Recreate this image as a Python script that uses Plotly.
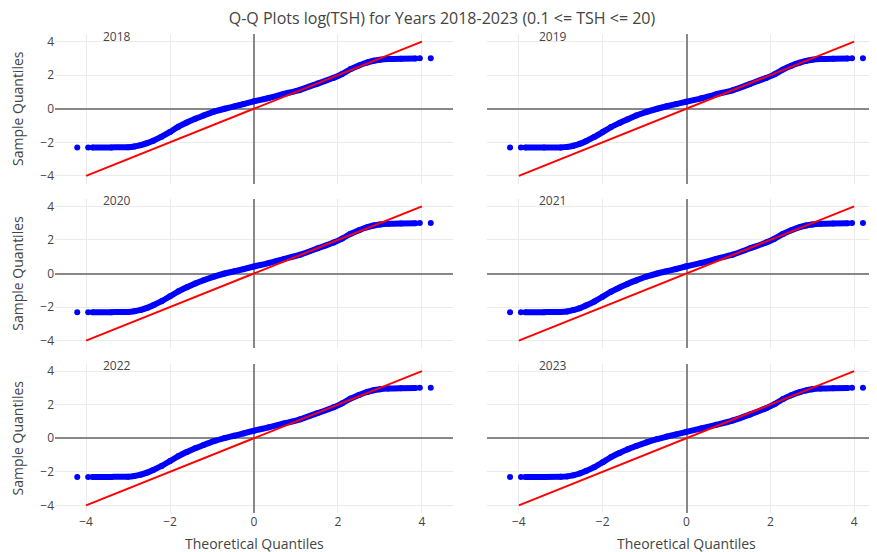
import plotly.graph_objects as go
from plotly.subplots import make_subplots

YEARS = ["2018", "2019", "2020", "2021", "2022", "2023"]

# Theoretical quantile grid along the dense band
THEO_GRID = [-3.85, -3.4, -3.0, -2.85, -2.7, -2.55, -2.4, -2.2, -2.0, -1.8,
             -1.6, -1.4, -1.2, -0.95, -0.7, -0.47, -0.25, 0.0, 0.35, 0.71,
             1.1, 1.52, 1.9, 2.1, 2.3, 2.5, 2.7, 2.85, 3.0, 3.2, 3.5, 3.85]

SAMPLE_2018 = [-2.30, -2.30, -2.29, -2.25, -2.17, -2.05, -1.90, -1.66, -1.38, -1.07,
               -0.82, -0.60, -0.40, -0.17, 0.00, 0.14, 0.28, 0.44, 0.64, 0.88,
               1.13, 1.50, 1.84, 2.07, 2.36, 2.58, 2.76, 2.86, 2.92, 2.96, 2.98, 2.99]
SAMPLE_2019 = [-2.30, -2.30, -2.30, -2.27, -2.20, -2.09, -1.93, -1.68, -1.39, -1.09,
               -0.85, -0.62, -0.40, -0.18, 0.00, 0.15, 0.28, 0.42, 0.62, 0.86,
               1.10, 1.48, 1.83, 2.05, 2.33, 2.56, 2.74, 2.85, 2.92, 2.96, 2.98, 2.99]
SAMPLE_2020 = [-2.30, -2.30, -2.29, -2.25, -2.17, -2.05, -1.89, -1.65, -1.36, -1.06,
               -0.82, -0.60, -0.40, -0.18, 0.00, 0.13, 0.26, 0.42, 0.62, 0.86,
               1.12, 1.50, 1.85, 2.08, 2.36, 2.58, 2.76, 2.86, 2.92, 2.96, 2.98, 2.99]
SAMPLE_2021 = [-2.30, -2.30, -2.29, -2.26, -2.18, -2.07, -1.91, -1.67, -1.38, -1.08,
               -0.84, -0.61, -0.41, -0.18, 0.00, 0.14, 0.27, 0.43, 0.63, 0.87,
               1.12, 1.50, 1.84, 2.07, 2.35, 2.58, 2.76, 2.86, 2.92, 2.96, 2.98, 2.99]
SAMPLE_2022 = [-2.30, -2.30, -2.29, -2.25, -2.17, -2.05, -1.89, -1.65, -1.36, -1.06,
               -0.82, -0.60, -0.40, -0.17, 0.01, 0.15, 0.29, 0.45, 0.65, 0.88,
               1.13, 1.50, 1.85, 2.08, 2.36, 2.58, 2.76, 2.86, 2.92, 2.96, 2.98, 2.99]
SAMPLE_2023 = [-2.30, -2.30, -2.29, -2.27, -2.21, -2.10, -1.95, -1.72, -1.43, -1.12,
               -0.88, -0.66, -0.46, -0.24, -0.05, 0.10, 0.23, 0.38, 0.58, 0.80,
               1.05, 1.42, 1.79, 2.03, 2.33, 2.56, 2.74, 2.85, 2.92, 2.96, 2.98, 2.99]

# Isolated extreme points at both ends
TAIL_THEO = [-4.21, -3.95, 3.95, 4.21]
TAIL_SAMPLE = [-2.30, -2.30, 3.00, 3.00]

# Reference line y = x
REF_LINE = [-4, 4]

SAMPLES = [SAMPLE_2018, SAMPLE_2019, SAMPLE_2020, SAMPLE_2021, SAMPLE_2022, SAMPLE_2023]

BLUE = "#0000FF"
RED = "#FF0000"
GRAY_TEXT = "#444444"

fig = make_subplots(rows=3, cols=2, shared_xaxes=True, shared_yaxes=True)

for i, (year, samp) in enumerate(zip(YEARS, SAMPLES)):
    r, c = i // 2 + 1, i % 2 + 1
    fig.add_trace(go.Scatter(x=THEO_GRID, y=samp, mode="lines+markers",
                             line=dict(color=BLUE, width=6, shape="spline", smoothing=0.6),
                             marker=dict(color=BLUE, size=6),
                             showlegend=False, hoverinfo="skip"), row=r, col=c)
    fig.add_trace(go.Scatter(x=TAIL_THEO, y=TAIL_SAMPLE, mode="markers",
                             marker=dict(color=BLUE, size=6), showlegend=False), row=r, col=c)
    fig.add_trace(go.Scatter(x=REF_LINE, y=REF_LINE, mode="lines",
                             line=dict(color=RED, width=2), showlegend=False), row=r, col=c)

# page body adds an 8px offset; layout measured in figure coordinates
W, H = 880, 552
ML, MR, MT, MB = 47, 2, 26, 47
pw = W - ML - MR
ph = H - MT - MB
left_dom = [0, 398 / pw]
right_dom = [432 / pw, 1]
rh = 149.5 / ph
gap = (1 - 3 * rh) / 2
row_doms = [[1 - rh, 1], [rh + gap, 2 * rh + gap], [0, rh]]

axis_common = dict(showgrid=True, gridcolor="#EBEBEB", zeroline=True, zerolinecolor="#888888",
                   zerolinewidth=1.5, showline=False, ticks="", tickfont=dict(size=12, color=GRAY_TEXT),
                   automargin=False, tickvals=[-4, -2, 0, 2, 4],
                   ticktext=["\u22124", "\u22122", "0", "2", "4"])

for i in range(6):
    r, c = i // 2, i % 2
    idx = i + 1
    xname = "xaxis" if idx == 1 else f"xaxis{idx}"
    yname = "yaxis" if idx == 1 else f"yaxis{idx}"
    xr = [-4.74, 4.74] if c == 0 else [-4.76, 4.76]
    xd = dict(axis_common, domain=left_dom if c == 0 else right_dom, range=xr)
    yd = dict(axis_common, domain=row_doms[r], range=[-4.45, 4.45])
    if c == 0:
        yd["title"] = dict(text="Sample Quantiles", font=dict(size=14, color=GRAY_TEXT))
    fig.update_layout({xname: xd, yname: yd})

annos = []
for i, year in enumerate(YEARS):
    idx = i + 1
    c = i % 2
    xref = "x domain" if idx == 1 else f"x{idx} domain"
    yref = "y domain" if idx == 1 else f"y{idx} domain"
    annos.append(dict(text=year, xref=xref, yref=yref, x=0.156 if c == 0 else 0.165, y=1,
                      xanchor="center", yanchor="middle", yshift=-2, showarrow=False,
                      font=dict(size=12, color=GRAY_TEXT)))

# x-axis titles for the bottom row
for idx, xc in ((5, 0.5), (6, 0.5)):
    annos.append(dict(text="Theoretical Quantiles", xref=f"x{idx} domain", yref=f"y{idx} domain",
                      x=xc, y=0, xanchor="center", yanchor="middle", yshift=-30,
                      showarrow=False, font=dict(size=14, color=GRAY_TEXT)))

fig.update_layout(
    template="plotly_white",
    width=W, height=H,
    margin=dict(l=ML, r=MR, t=MT, b=MB),
    title=dict(text="Q-Q Plots log(TSH) for Years 2018-2023 (0.1 <= TSH <= 20)",
               x=434 / W, xanchor="center", y=1 - 10 / H, yanchor="middle",
               font=dict(size=16, color=GRAY_TEXT)),
    annotations=annos,
    plot_bgcolor="white", paper_bgcolor="white",
    font=dict(color=GRAY_TEXT),
)

fig.write_html("out.html")
